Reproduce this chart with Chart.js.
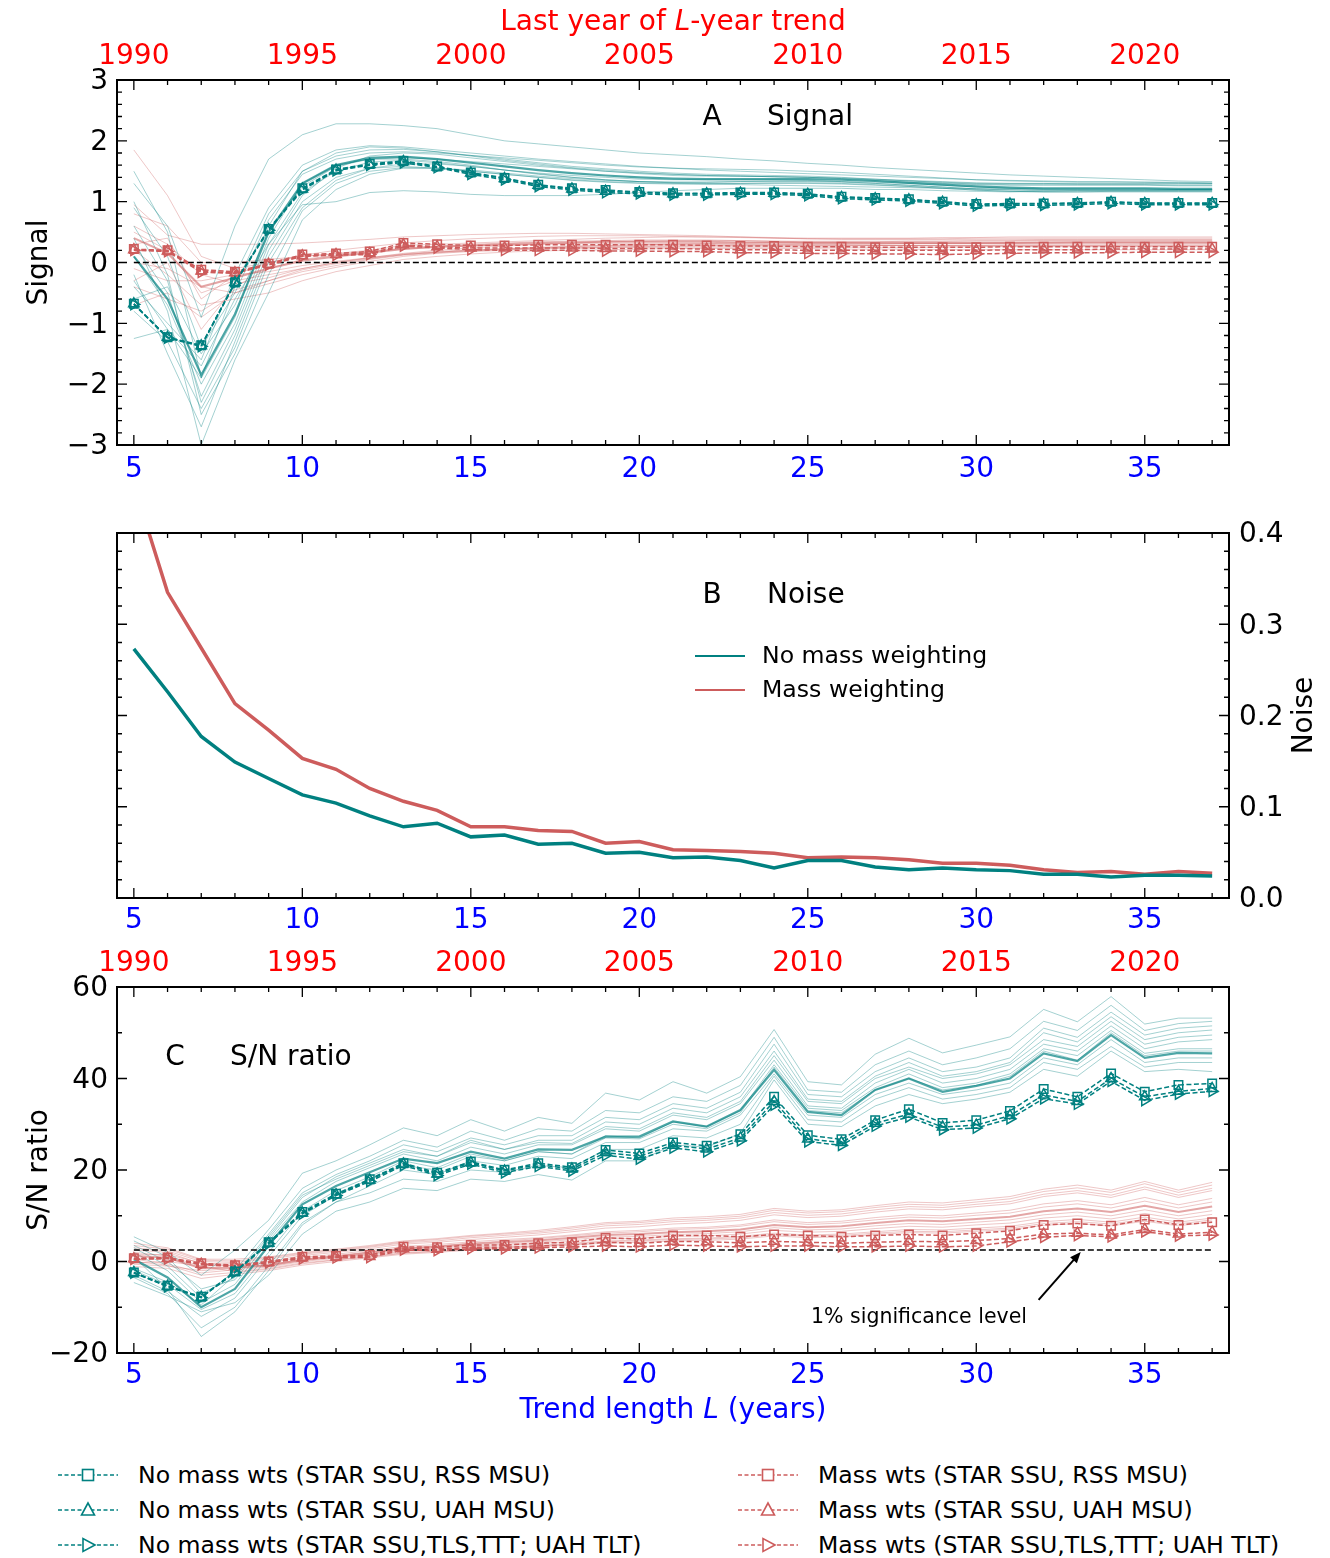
<!DOCTYPE html>
<html>
<head>
<meta charset="utf-8">
<script src="https://cdn.jsdelivr.net/npm/chart.js@4.4.1/dist/chart.umd.min.js"></script>
<style>
  body { margin: 0; background: #fff; width: 1330px; height: 1558px; position: relative; overflow: hidden; font-family: 'DejaVu Sans', sans-serif; }
  canvas { position: absolute; left: 0; }
  .leg { position: absolute; height: 30px; display: flex; align-items: center; font-size: 23.6px; white-space: nowrap; color: #000; }
  .leg svg { margin-right: 20px; }
</style>
</head>
<body>
<canvas id="chartA" width="1330" height="500" style="top:0px"></canvas>
<canvas id="chartB" width="1330" height="440" style="top:500px"></canvas>
<canvas id="chartC" width="1330" height="500" style="top:930px"></canvas>
<div id="legend"></div>
<script>
// ---- data ----
const trendLength = [5, 6, 7, 8, 9, 10, 11, 12, 13, 14, 15, 16, 17, 18, 19, 20, 21, 22, 23, 24, 25, 26, 27, 28, 29, 30, 31, 32, 33, 34, 35, 36, 37];
const lengthTicks = [5, 10, 15, 20, 25, 30, 35];
const yearTicks = [1990, 1995, 2000, 2005, 2010, 2015, 2020];
const yearOffset = 1985; // last year of an L-year trend = L + 1985
const signalTicks = [-3, -2, -1, 0, 1, 2, 3];
const noiseTicks = [0, 0.1, 0.2, 0.3, 0.4];
const snTicks = [-20, 0, 20, 40, 60];
const zeroLevel = 0;
const sigLevel = 2.5;

// A: signal, observations (RSS MSU / UAH MSU / TLS,TTT + UAH TLT)
const sigTealRss = [-0.68, -1.23, -1.36, -0.33, 0.55, 1.22, 1.53, 1.62, 1.67, 1.58, 1.48, 1.39, 1.28, 1.22, 1.19, 1.16, 1.14, 1.14, 1.15, 1.15, 1.13, 1.08, 1.06, 1.04, 1.00, 0.96, 0.97, 0.97, 0.98, 1.00, 0.98, 0.98, 0.98];
const sigTealUah = [-0.68, -1.23, -1.37, -0.33, 0.54, 1.21, 1.52, 1.61, 1.66, 1.57, 1.47, 1.38, 1.27, 1.21, 1.17, 1.15, 1.13, 1.13, 1.14, 1.14, 1.12, 1.07, 1.05, 1.03, 0.99, 0.95, 0.96, 0.96, 0.97, 0.99, 0.97, 0.97, 0.97];
const sigTealTlt = [-0.69, -1.24, -1.38, -0.34, 0.53, 1.19, 1.51, 1.60, 1.64, 1.56, 1.45, 1.36, 1.25, 1.19, 1.15, 1.13, 1.11, 1.11, 1.12, 1.12, 1.10, 1.05, 1.03, 1.01, 0.97, 0.93, 0.94, 0.94, 0.95, 0.97, 0.95, 0.95, 0.95];
const sigRedRss = [0.22, 0.20, -0.12, -0.15, -0.02, 0.13, 0.15, 0.18, 0.32, 0.30, 0.28, 0.28, 0.29, 0.29, 0.29, 0.29, 0.29, 0.28, 0.27, 0.27, 0.26, 0.26, 0.25, 0.25, 0.25, 0.25, 0.26, 0.26, 0.26, 0.26, 0.26, 0.26, 0.26];
const sigRedUah = [0.21, 0.19, -0.14, -0.17, -0.03, 0.11, 0.13, 0.15, 0.29, 0.26, 0.24, 0.24, 0.24, 0.24, 0.23, 0.23, 0.23, 0.22, 0.21, 0.21, 0.20, 0.20, 0.20, 0.20, 0.20, 0.20, 0.21, 0.21, 0.21, 0.22, 0.22, 0.22, 0.22];
const sigRedTlt = [0.20, 0.18, -0.16, -0.18, -0.04, 0.10, 0.12, 0.13, 0.27, 0.24, 0.21, 0.20, 0.20, 0.20, 0.19, 0.19, 0.18, 0.18, 0.16, 0.16, 0.15, 0.15, 0.14, 0.14, 0.13, 0.14, 0.15, 0.16, 0.16, 0.16, 0.17, 0.17, 0.17];
// A: model realisations and their mean
const sigTealMean = [0.1, -0.6, -1.85, -0.85, 0.5, 1.3, 1.6, 1.72, 1.74, 1.7, 1.64, 1.58, 1.52, 1.47, 1.43, 1.4, 1.38, 1.37, 1.37, 1.37, 1.37, 1.36, 1.34, 1.31, 1.28, 1.25, 1.23, 1.22, 1.22, 1.22, 1.22, 1.21, 1.21];
const sigRedMean = [0.4, 0.15, -0.4, -0.25, -0.1, 0.03, 0.1, 0.16, 0.22, 0.26, 0.28, 0.3, 0.32, 0.33, 0.34, 0.34, 0.34, 0.34, 0.33, 0.33, 0.32, 0.32, 0.32, 0.32, 0.32, 0.32, 0.32, 0.33, 0.33, 0.33, 0.33, 0.33, 0.33];
const sigTealRuns = [
  [1.3, 0.6, -0.9, 0.6, 1.7, 2.1, 2.28, 2.28, 2.25, 2.2, 2.1, 2.0, 1.95, 1.9, 1.85, 1.8, 1.77, 1.74, 1.7, 1.67, 1.63, 1.6, 1.56, 1.53, 1.5, 1.47, 1.44, 1.42, 1.4, 1.38, 1.36, 1.34, 1.33],
  [0.4, -0.8, -3.0, -1.6, -0.5, 0.7, 1.2, 1.45, 1.55, 1.55, 1.5, 1.45, 1.4, 1.36, 1.33, 1.31, 1.3, 1.29, 1.28, 1.27, 1.26, 1.25, 1.24, 1.23, 1.22, 1.21, 1.21, 1.2, 1.2, 1.2, 1.2, 1.2, 1.2],
  [-1.25, -1.1, -1.7, -0.6, 0.3, 0.95, 1.0, 1.15, 1.18, 1.16, 1.12, 1.1, 1.1, 1.1, 1.12, 1.15, 1.18, 1.2, 1.22, 1.22, 1.22, 1.22, 1.2, 1.2, 1.18, 1.17, 1.16, 1.17, 1.18, 1.18, 1.18, 1.18, 1.18],
  [1.5, 0.5, -1.9, -0.9, 0.6, 1.5, 1.8, 1.9, 1.88, 1.82, 1.75, 1.68, 1.62, 1.56, 1.52, 1.48, 1.45, 1.43, 1.42, 1.41, 1.4, 1.38, 1.36, 1.34, 1.32, 1.3, 1.3, 1.3, 1.3, 1.3, 1.3, 1.3, 1.3],
  [0.6, -0.3, -2.3, -1.2, 0.2, 1.1, 1.55, 1.75, 1.8, 1.78, 1.72, 1.66, 1.6, 1.55, 1.5, 1.46, 1.43, 1.42, 1.42, 1.41, 1.4, 1.38, 1.35, 1.32, 1.3, 1.28, 1.27, 1.27, 1.27, 1.27, 1.27, 1.26, 1.26],
  [-0.4, -1.0, -1.6, -0.2, 0.9, 1.6, 1.85, 1.92, 1.9, 1.85, 1.8, 1.75, 1.7, 1.66, 1.62, 1.58, 1.55, 1.52, 1.5, 1.48, 1.46, 1.44, 1.42, 1.4, 1.38, 1.36, 1.35, 1.34, 1.33, 1.33, 1.32, 1.32, 1.31],
  [0.1, -0.7, -2.0, -1.0, 0.4, 1.3, 1.6, 1.7, 1.7, 1.66, 1.6, 1.52, 1.45, 1.4, 1.36, 1.33, 1.32, 1.32, 1.33, 1.34, 1.34, 1.33, 1.32, 1.3, 1.27, 1.24, 1.22, 1.21, 1.21, 1.21, 1.21, 1.2, 1.2],
  [-0.8, -1.3, -2.4, -1.4, 0.0, 0.9, 1.35, 1.55, 1.62, 1.62, 1.58, 1.52, 1.46, 1.4, 1.36, 1.33, 1.31, 1.3, 1.3, 1.3, 1.3, 1.29, 1.27, 1.25, 1.22, 1.19, 1.17, 1.16, 1.16, 1.16, 1.16, 1.16, 1.16],
  [0.9, 0.1, -1.4, -0.5, 0.7, 1.45, 1.7, 1.8, 1.82, 1.8, 1.76, 1.72, 1.68, 1.64, 1.6, 1.57, 1.55, 1.54, 1.53, 1.52, 1.5, 1.48, 1.45, 1.42, 1.39, 1.36, 1.34, 1.33, 1.32, 1.32, 1.32, 1.31, 1.3],
  [-0.2, -1.5, -2.7, -1.3, 0.1, 1.0, 1.4, 1.55, 1.58, 1.55, 1.5, 1.45, 1.4, 1.35, 1.32, 1.3, 1.29, 1.29, 1.3, 1.31, 1.31, 1.3, 1.28, 1.25, 1.22, 1.19, 1.17, 1.16, 1.16, 1.17, 1.17, 1.17, 1.17],
  [-0.3, -1.1, -1.9, -0.4, 0.8, 1.5, 1.75, 1.85, 1.86, 1.82, 1.76, 1.7, 1.64, 1.58, 1.54, 1.5, 1.47, 1.45, 1.44, 1.43, 1.42, 1.4, 1.37, 1.34, 1.31, 1.29, 1.28, 1.28, 1.28, 1.28, 1.28, 1.27, 1.27],
  [0.3, -0.5, -2.2, -1.1, 0.3, 1.15, 1.5, 1.65, 1.68, 1.64, 1.58, 1.52, 1.47, 1.43, 1.4, 1.37, 1.36, 1.36, 1.36, 1.36, 1.35, 1.33, 1.3, 1.27, 1.24, 1.21, 1.2, 1.19, 1.19, 1.19, 1.19, 1.19, 1.19],
  [-0.6, -0.4, -1.5, -0.7, 0.5, 1.25, 1.58, 1.7, 1.72, 1.7, 1.66, 1.62, 1.58, 1.54, 1.5, 1.47, 1.45, 1.43, 1.42, 1.41, 1.4, 1.39, 1.37, 1.35, 1.33, 1.31, 1.3, 1.3, 1.29, 1.29, 1.29, 1.29, 1.29],
  [1.0, -0.2, -2.5, -1.5, -0.2, 0.85, 1.3, 1.5, 1.56, 1.55, 1.52, 1.47, 1.42, 1.38, 1.35, 1.33, 1.32, 1.32, 1.33, 1.33, 1.33, 1.32, 1.3, 1.27, 1.24, 1.21, 1.19, 1.18, 1.18, 1.18, 1.18, 1.18, 1.18]
];
const sigRedRuns = [
  [1.85, 1.1, 0.1, -0.1, 0.0, 0.1, 0.15, 0.2, 0.28, 0.3, 0.32, 0.34, 0.36, 0.38, 0.4, 0.41, 0.42, 0.42, 0.42, 0.41, 0.4, 0.4, 0.4, 0.4, 0.41, 0.41, 0.42, 0.42, 0.42, 0.42, 0.42, 0.42, 0.42],
  [0.95, 0.45, 0.3, 0.3, 0.3, 0.32, 0.35, 0.38, 0.42, 0.44, 0.46, 0.47, 0.48, 0.48, 0.47, 0.46, 0.45, 0.44, 0.42, 0.4, 0.39, 0.38, 0.38, 0.38, 0.38, 0.38, 0.38, 0.38, 0.38, 0.38, 0.38, 0.38, 0.38],
  [-0.7, -0.5, -0.9, -0.5, -0.3, -0.15, -0.05, 0.05, 0.12, 0.16, 0.19, 0.21, 0.23, 0.24, 0.25, 0.26, 0.26, 0.27, 0.27, 0.27, 0.27, 0.27, 0.28, 0.28, 0.28, 0.28, 0.29, 0.29, 0.29, 0.29, 0.3, 0.3, 0.3],
  [0.5, 0.2, -0.5, -0.3, -0.2, -0.1, 0.0, 0.07, 0.13, 0.17, 0.2, 0.22, 0.24, 0.26, 0.28, 0.29, 0.3, 0.31, 0.32, 0.33, 0.33, 0.34, 0.34, 0.35, 0.35, 0.36, 0.36, 0.37, 0.37, 0.37, 0.37, 0.37, 0.37],
  [0.2, -0.2, -0.7, -0.6, -0.5, -0.3, -0.15, -0.05, 0.05, 0.1, 0.14, 0.17, 0.19, 0.2, 0.21, 0.22, 0.23, 0.23, 0.23, 0.23, 0.23, 0.22, 0.22, 0.22, 0.21, 0.21, 0.21, 0.21, 0.21, 0.21, 0.21, 0.21, 0.21],
  [-0.3, 0.0, -1.1, -0.4, -0.1, 0.05, 0.12, 0.18, 0.24, 0.27, 0.3, 0.32, 0.34, 0.35, 0.36, 0.37, 0.37, 0.37, 0.36, 0.35, 0.34, 0.33, 0.32, 0.32, 0.32, 0.32, 0.33, 0.33, 0.34, 0.34, 0.34, 0.34, 0.34],
  [0.8, 0.6, 0.0, 0.0, 0.05, 0.1, 0.14, 0.18, 0.22, 0.25, 0.27, 0.29, 0.3, 0.31, 0.31, 0.31, 0.31, 0.31, 0.3, 0.3, 0.29, 0.29, 0.28, 0.28, 0.27, 0.27, 0.27, 0.27, 0.27, 0.27, 0.27, 0.27, 0.27],
  [-0.1, -0.3, -0.3, -0.2, -0.15, -0.05, 0.02, 0.08, 0.14, 0.18, 0.21, 0.23, 0.25, 0.27, 0.28, 0.29, 0.3, 0.3, 0.3, 0.3, 0.3, 0.3, 0.3, 0.31, 0.31, 0.31, 0.31, 0.31, 0.32, 0.32, 0.32, 0.32, 0.32],
  [0.6, 0.3, -0.2, -0.35, -0.25, -0.1, 0.0, 0.08, 0.15, 0.2, 0.24, 0.27, 0.3, 0.32, 0.34, 0.35, 0.36, 0.36, 0.36, 0.35, 0.35, 0.35, 0.35, 0.35, 0.35, 0.35, 0.35, 0.36, 0.36, 0.36, 0.36, 0.36, 0.36],
  [-0.4, -0.6, -0.8, -0.45, -0.3, -0.12, -0.02, 0.06, 0.13, 0.17, 0.2, 0.22, 0.24, 0.25, 0.26, 0.27, 0.28, 0.28, 0.28, 0.28, 0.28, 0.28, 0.28, 0.28, 0.28, 0.28, 0.28, 0.28, 0.28, 0.28, 0.28, 0.28, 0.28],
  [0.3, 0.4, -0.6, -0.2, 0.0, 0.12, 0.2, 0.26, 0.32, 0.36, 0.39, 0.41, 0.43, 0.44, 0.44, 0.44, 0.43, 0.42, 0.41, 0.4, 0.39, 0.39, 0.39, 0.39, 0.39, 0.4, 0.4, 0.4, 0.4, 0.4, 0.4, 0.4, 0.4],
  [0.0, -0.1, -0.4, -0.5, -0.35, -0.2, -0.08, 0.02, 0.1, 0.15, 0.18, 0.2, 0.22, 0.23, 0.24, 0.25, 0.25, 0.25, 0.25, 0.25, 0.25, 0.25, 0.25, 0.25, 0.25, 0.26, 0.26, 0.26, 0.26, 0.26, 0.26, 0.26, 0.26]
];

// B: noise
const noiseTeal = [0.273, 0.226, 0.177, 0.149, 0.131, 0.113, 0.104, 0.090, 0.078, 0.082, 0.067, 0.069, 0.059, 0.060, 0.049, 0.050, 0.044, 0.045, 0.041, 0.033, 0.041, 0.041, 0.034, 0.031, 0.033, 0.031, 0.030, 0.026, 0.026, 0.023, 0.025, 0.025, 0.024];
const noiseRed = [0.453, 0.335, 0.274, 0.213, 0.184, 0.153, 0.141, 0.120, 0.106, 0.096, 0.078, 0.078, 0.074, 0.073, 0.060, 0.062, 0.053, 0.052, 0.051, 0.049, 0.044, 0.045, 0.044, 0.042, 0.038, 0.038, 0.036, 0.031, 0.028, 0.029, 0.026, 0.029, 0.027];

// C: S/N ratio, observations
const snTealRss = [-2.4, -5.3, -7.7, -2.2, 4.2, 10.8, 14.8, 18.0, 21.5, 19.4, 21.8, 20.0, 21.5, 20.6, 24.4, 23.6, 26.0, 25.3, 27.8, 36.0, 27.6, 26.7, 30.9, 33.3, 30.3, 30.9, 32.9, 37.7, 36.0, 41.1, 37.1, 38.6, 38.9];
const snTealUah = [-2.4, -5.4, -7.8, -2.3, 4.0, 10.6, 14.6, 17.8, 21.3, 19.1, 21.6, 19.8, 21.2, 20.2, 23.8, 23.0, 25.4, 24.6, 27.0, 35.0, 26.8, 26.0, 30.2, 32.2, 29.4, 29.8, 31.9, 36.4, 35.0, 40.0, 36.0, 37.2, 37.8];
const snTealTlt = [-2.5, -5.5, -7.9, -2.4, 3.9, 10.4, 14.4, 17.5, 21.0, 18.8, 21.3, 19.4, 20.8, 19.8, 23.2, 22.4, 24.8, 24.0, 26.4, 34.2, 26.2, 25.4, 29.6, 31.6, 28.8, 29.2, 31.2, 35.6, 34.4, 39.4, 35.2, 36.6, 37.2];
const snRedRss = [0.7, 0.85, -0.4, -0.8, 0, 1.05, 1.2, 1.4, 3.2, 3.1, 3.6, 3.6, 4.0, 4.2, 5.2, 4.9, 5.7, 5.7, 5.4, 5.9, 5.7, 5.4, 5.7, 5.9, 5.7, 6.2, 6.7, 8.0, 8.3, 7.8, 9.2, 8.0, 8.6];
const snRedUah = [0.6, 0.7, -0.6, -1.0, -0.2, 0.8, 1.0, 1.1, 2.8, 2.7, 3.1, 3.1, 3.4, 3.6, 4.2, 4.0, 4.4, 4.3, 4.1, 4.4, 4.2, 4.0, 4.2, 4.4, 4.3, 4.6, 5.0, 6.0, 6.2, 5.8, 7.0, 6.0, 6.4];
const snRedTlt = [0.5, 0.6, -0.7, -1.1, -0.3, 0.6, 0.8, 0.9, 2.5, 2.4, 2.8, 2.8, 3.0, 3.2, 3.4, 3.2, 3.6, 3.4, 3.2, 3.4, 3.4, 3.2, 3.2, 3.4, 3.2, 3.4, 4.3, 5.3, 5.7, 5.4, 6.5, 5.6, 5.8];
// C: model realisations and their mean
const snTealMean = [0.5, -3.5, -10, -6, 3.5, 12.5, 16.5, 19.5, 22.5, 21.5, 24, 22.5, 24.5, 24.4, 27.3, 27.3, 30.6, 29.5, 33.1, 41.9, 32.7, 32, 37.5, 40, 37.1, 38.4, 40, 45.5, 43.8, 49.5, 44.5, 45.6, 45.5];
const snRedMean = [1.2, 0.8, -1.5, -1.3, -0.8, 0.4, 1.1, 1.9, 2.8, 3.2, 3.8, 4.2, 4.6, 5.2, 5.8, 6, 6.4, 6.6, 7, 8, 7.5, 7.7, 8.4, 9, 8.8, 9.3, 9.8, 11, 11.6, 10.8, 12.2, 10.8, 12];
const snTealRuns = [
  [5.4, 2, -3, 2.5, 9, 19.3, 22, 25.5, 29.2, 27.5, 31, 28.5, 31.5, 30.2, 36.8, 35.3, 39.3, 36.8, 40.4, 50.7, 39.3, 38.6, 45.3, 48.8, 45.6, 47.3, 49.1, 55.1, 52.4, 57.9, 51.9, 53.2, 53.2],
  [3.5, 0, -6, -4, 5, 14, 18.5, 21.5, 24.5, 23, 26.5, 24.5, 26.5, 26.5, 30.5, 30, 33.5, 32.5, 36, 46, 35.5, 35, 40.5, 43.5, 40.5, 41.5, 43.5, 50, 48, 53.5, 48.5, 50, 50.6],
  [2, -2, -9, -5, 4.5, 13, 17.5, 20.5, 23.5, 22, 25, 23.5, 25.5, 25.5, 29, 28.5, 32, 31, 34.5, 44, 34, 33.5, 39, 42, 39, 40, 42, 47.5, 46, 51.5, 46.5, 48, 48.5],
  [-4.6, -7.5, -11, -9, -3, 6, 11, 13, 16, 15.5, 18, 17.5, 19, 17.8, 22, 22, 25.5, 25, 28, 39.7, 30, 29.5, 34, 36.5, 34.5, 35.5, 37, 42, 40.5, 46, 41.5, 42, 41.5],
  [1, -6, -16.4, -11, -2, 8, 13, 16.5, 20, 19, 22, 21, 23, 22.5, 26, 26, 29, 28.5, 32, 41, 32, 31.5, 36.5, 39, 36.5, 37.5, 39, 44.5, 43, 48.5, 43.5, 44.5, 44.5],
  [-1.5, -4.5, -9.5, -3, 6, 15, 19, 22, 25.5, 24, 27, 25.5, 27.5, 27.5, 31.5, 31, 34.5, 33.5, 37, 47.5, 36.5, 36, 41.5, 44.5, 41.5, 42.5, 44.5, 51, 49, 54.5, 49.5, 51, 51.5],
  [-3, -6.5, -12, -8, 1, 10, 14.5, 18, 21, 20, 23, 22, 24, 23.5, 27, 26.8, 30, 29, 32.5, 42.5, 33, 32.5, 37.5, 40, 37.5, 38.5, 40.5, 46, 44, 50, 45, 46, 46],
  [3, -1, -8, -2, 7, 16, 20, 23, 26.5, 25, 28.5, 26.5, 29, 28.5, 33, 32.5, 36, 35, 38.5, 49, 37.5, 37, 43, 46, 43, 44.5, 46.5, 52.5, 50.5, 56, 50.5, 52, 52.5],
  [-2, -5, -10.5, -7, 2, 11, 15.5, 18.5, 22, 20.5, 23.5, 22, 24, 23.5, 27.5, 27, 30.5, 29.5, 33, 43, 33.5, 33, 38, 41, 38, 39, 41, 46.5, 45, 50.5, 45.5, 46.5, 46.5],
  [4.5, 1, -7, -3.5, 5.5, 14.5, 18, 21, 24, 23, 26, 24.5, 26, 25.8, 29.5, 29, 32.5, 31.5, 35, 45, 35, 34.5, 40, 42.5, 40, 41, 43, 48.5, 47, 52.5, 47.5, 49, 49.5],
  [-3.5, -7, -14.5, -10, -1, 8.5, 13, 15, 18, 17.5, 20, 19.5, 21, 20.5, 24.5, 24.5, 27.5, 27, 30, 40.5, 31, 30.5, 35.5, 38, 35.5, 36.5, 38, 43.5, 42, 47, 42.5, 43.5, 43.5]
];
const snRedRuns = [
  [4, 3, 0.5, 0.5, 1, 2, 2.7, 3.5, 4.5, 5, 5.7, 6.2, 6.8, 7.6, 8.5, 8.8, 9.5, 9.8, 10.3, 11.6, 11, 11.3, 12.2, 13, 12.8, 13.5, 14.2, 15.8, 16.7, 15.6, 17.5, 15.6, 17.3],
  [2.5, 2, -0.5, -0.5, 0, 1.3, 2, 2.8, 3.8, 4.2, 4.8, 5.3, 5.8, 6.5, 7.3, 7.6, 8.2, 8.5, 9, 10.2, 9.6, 9.9, 10.8, 11.5, 11.3, 12, 12.6, 14.2, 15, 14, 15.8, 14, 15.5],
  [-1.1, -1.5, -3.7, -2.8, -2, -0.8, 0, 0.8, 1.6, 2, 2.5, 2.8, 3.2, 3.6, 4, 4.2, 4.5, 4.6, 4.9, 5.6, 5.2, 5.4, 5.9, 6.3, 6.2, 6.6, 7, 7.9, 8.3, 7.8, 8.8, 7.8, 8.7],
  [0.5, -0.5, -2.5, -1.8, -1.2, 0, 0.7, 1.4, 2.2, 2.6, 3.1, 3.5, 3.9, 4.4, 4.9, 5.1, 5.5, 5.6, 6, 6.8, 6.4, 6.6, 7.2, 7.7, 7.5, 8, 8.4, 9.5, 10, 9.3, 10.5, 9.3, 10.3],
  [3, 2.3, 0, -0.2, 0.5, 1.6, 2.3, 3.1, 4.1, 4.5, 5.2, 5.7, 6.2, 6.9, 7.8, 8.1, 8.7, 9, 9.5, 10.7, 10.1, 10.4, 11.3, 12, 11.8, 12.5, 13.1, 14.7, 15.5, 14.5, 16.3, 14.5, 16],
  [-0.3, 0, -1, -2.2, -1.5, -0.3, 0.4, 1.1, 1.9, 2.3, 2.8, 3.2, 3.5, 4, 4.5, 4.7, 5, 5.1, 5.5, 6.2, 5.8, 6, 6.5, 7, 6.9, 7.3, 7.7, 8.7, 9.2, 8.6, 9.7, 8.6, 9.5],
  [2, 1.2, -1, -0.8, -0.3, 0.9, 1.6, 2.4, 3.3, 3.7, 4.3, 4.8, 5.2, 5.8, 6.5, 6.8, 7.3, 7.5, 8, 9.1, 8.5, 8.8, 9.6, 10.2, 10, 10.6, 11.2, 12.6, 13.3, 12.4, 14, 12.4, 13.8],
  [1.5, 1.5, -0.3, -1, -0.8, 0.5, 1.3, 2.1, 3, 3.4, 4, 4.5, 5, 5.6, 6.2, 6.5, 7, 7.2, 7.7, 8.7, 8.1, 8.4, 9.1, 9.7, 9.5, 10.1, 10.6, 11.9, 12.6, 11.7, 13.2, 11.7, 13],
  [-0.6, -1, -2, -1.5, -1, 0.2, 0.9, 1.6, 2.5, 2.9, 3.4, 3.8, 4.2, 4.8, 5.3, 5.5, 5.9, 6.1, 6.5, 7.4, 6.9, 7.1, 7.8, 8.3, 8.1, 8.6, 9.1, 10.2, 10.8, 10, 11.3, 10, 11.1],
  [3.5, 2.7, 0.3, 0.1, 0.8, 1.8, 2.5, 3.3, 4.3, 4.8, 5.5, 6, 6.5, 7.3, 8.2, 8.5, 9.1, 9.4, 9.9, 11.2, 10.6, 10.9, 11.8, 12.5, 12.3, 13, 13.7, 15.3, 16.1, 15.1, 17, 15.1, 16.7],
  [0.0, -0.8, -3, -2.4, -1.7, -0.5, 0.3, 1, 1.8, 2.2, 2.7, 3, 3.4, 3.8, 4.3, 4.5, 4.8, 4.9, 5.2, 5.9, 5.5, 5.7, 6.2, 6.6, 6.5, 6.9, 7.3, 8.3, 8.7, 8.2, 9.2, 8.2, 9.1]
];

const obsLabels = ['STAR SSU, RSS MSU', 'STAR SSU, UAH MSU', 'STAR SSU,TLS,TTT; UAH TLT'];
const noiseLabels = ['No mass weighting', 'Mass weighting'];

// ---- style ----
const FONT = "'DejaVu Sans', sans-serif";
const TEAL = '#008080', RED = '#cd5c5c';
const TEAL_THIN = 'rgba(0,128,128,0.36)', RED_THIN = 'rgba(205,92,92,0.34)';
const TEAL_MEAN = 'rgba(0,128,128,0.7)', RED_MEAN = 'rgba(205,92,92,0.55)';
const markers = [{style: 'rect', rot: 0}, {style: 'triangle', rot: 0}, {style: 'triangle', rot: 90}];
const tickFont = {family: FONT, size: 28};

function series(values, color, width, extra) {
  return Object.assign({
    data: trendLength.map((x, i) => ({x: x, y: values[i]})),
    borderColor: color, borderWidth: width, pointRadius: 0, pointHoverRadius: 0, fill: false
  }, extra || {});
}
function obsSeries(values, color, k) {
  return series(values, color, 1.5, {
    borderDash: [5, 2.5], pointStyle: markers[k].style, pointRotation: markers[k].rot,
    pointRadius: 6, pointBorderWidth: 1.5, pointBorderColor: color, pointBackgroundColor: 'rgba(0,0,0,0)'
  });
}
function levelLine(level) {
  return {
    data: [{x: trendLength[0], y: level}, {x: trendLength[trendLength.length - 1], y: level}],
    borderColor: '#000', borderWidth: 1.5, borderDash: [6, 3], pointRadius: 0
  };
}

function lengthAxis(h, pad) {
  return {
    type: 'linear', position: 'bottom', min: 4.5, max: 37.5,
    grid: {display: false, drawTicks: false}, border: {display: false},
    ticks: {color: '#0000ff', font: tickFont, padding: pad, maxRotation: 0, callback: v => String(v)},
    afterBuildTicks: s => { s.ticks = lengthTicks.map(v => ({value: v})); },
    afterFit: s => { s.height = h; }
  };
}
function yearAxis(h) {
  return {
    type: 'linear', position: 'top', min: 4.5 + yearOffset, max: 37.5 + yearOffset,
    grid: {display: false, drawTicks: false}, border: {display: false},
    ticks: {color: '#ff0000', font: tickFont, padding: 6, maxRotation: 0, callback: v => String(v)},
    afterBuildTicks: s => { s.ticks = yearTicks.map(v => ({value: v})); },
    afterFit: s => { s.height = h; }
  };
}
function valueAxis(pos, min, max, ticks, w, fmt) {
  return {
    type: 'linear', position: pos, min: min, max: max,
    grid: {display: false, drawTicks: false}, border: {display: false},
    ticks: {color: '#000', font: tickFont, padding: pos === 'left' ? 9 : 10, labelOffset: 2, callback: fmt},
    afterBuildTicks: s => { s.ticks = ticks.map(v => ({value: v})); },
    afterFit: s => { s.width = w; }
  };
}
const intFmt = v => (v < 0 ? '\u2212' + Math.abs(v) : String(v));
const decFmt = v => v.toFixed(1);

function baseOptions(padding, scales) {
  return {
    responsive: false, animation: false, devicePixelRatio: 1, events: [],
    layout: {padding: padding},
    plugins: {legend: {display: false}, tooltip: {enabled: false}},
    scales: scales
  };
}

// inward ticks on all four sides plus the frame
function frame(chart, yStep) {
  const {ctx, chartArea: a, scales: {x, y}} = chart;
  ctx.save();
  ctx.strokeStyle = '#000';
  ctx.lineWidth = 1.3;
  ctx.beginPath();
  trendLength.forEach(v => {
    const p = x.getPixelForValue(v);
    const len = lengthTicks.includes(v) ? 10 : 5;
    ctx.moveTo(p, a.bottom); ctx.lineTo(p, a.bottom - len);
    ctx.moveTo(p, a.top); ctx.lineTo(p, a.top + len);
  });
  const major = y.ticks.map(t => t.value);
  const n = Math.round((y.max - y.min) / yStep);
  for (let i = 0; i <= n; i++) {
    const v = y.min + i * yStep;
    const len = major.some(m => Math.abs(m - v) < 1e-6) ? 10 : 5;
    const p = y.getPixelForValue(v);
    ctx.moveTo(a.left, p); ctx.lineTo(a.left + len, p);
    ctx.moveTo(a.right, p); ctx.lineTo(a.right - len, p);
  }
  ctx.stroke();
  ctx.lineWidth = 2;
  ctx.strokeRect(a.left, a.top, a.right - a.left, a.bottom - a.top);
  ctx.restore();
}

// text with optional italic pieces, centred on (cx, cy)
function mixed(ctx, parts, cx, cy, size, color, rot) {
  ctx.save();
  ctx.translate(cx, cy);
  if (rot) ctx.rotate(rot);
  ctx.fillStyle = color;
  ctx.textBaseline = 'middle';
  ctx.textAlign = 'left';
  const fonts = parts.map(p => (p[1] ? 'italic ' : '') + size + 'px ' + FONT);
  let w = 0;
  parts.forEach((p, i) => { ctx.font = fonts[i]; w += ctx.measureText(p[0]).width; });
  let xx = -w / 2;
  parts.forEach((p, i) => { ctx.font = fonts[i]; ctx.fillText(p[0], xx, 0); xx += ctx.measureText(p[0]).width; });
  ctx.restore();
}
function label(ctx, str, x, y, size, align, color) {
  ctx.save();
  ctx.font = size + 'px ' + FONT;
  ctx.fillStyle = color || '#000';
  ctx.textAlign = align;
  ctx.textBaseline = 'middle';
  ctx.fillText(str, x, y);
  ctx.restore();
}

// ---- A: Signal ----
new Chart(document.getElementById('chartA'), {
  type: 'line',
  data: {datasets: [
    obsSeries(sigTealRss, TEAL, 0), obsSeries(sigTealUah, TEAL, 1), obsSeries(sigTealTlt, TEAL, 2),
    obsSeries(sigRedRss, RED, 0), obsSeries(sigRedUah, RED, 1), obsSeries(sigRedTlt, RED, 2),
    levelLine(zeroLevel),
    series(sigTealMean, TEAL_MEAN, 2.2),
    series(sigRedMean, RED_MEAN, 2),
    ...sigTealRuns.map(v => series(v, TEAL_THIN, 1)),
    ...sigRedRuns.map(v => series(v, RED_THIN, 1))
  ]},
  options: baseOptions({left: 0, right: 101, top: 0, bottom: 0}, {
    x: lengthAxis(55, 8),
    x2: yearAxis(80),
    y: valueAxis('left', -3, 3, signalTicks, 117, intFmt)
  }),
  plugins: [{
    id: 'decoA',
    afterDraw(chart) {
      const ctx = chart.ctx, a = chart.chartArea;
      frame(chart, 0.2);
      mixed(ctx, [['Last year of ', 0], ['L', 1], ['-year trend', 0]], (a.left + a.right) / 2, 23, 28, '#ff0000');
      mixed(ctx, [['Signal', 0]], 40, (a.top + a.bottom) / 2, 28, '#000', -Math.PI / 2);
      label(ctx, 'A', 712, 118, 28, 'center');
      label(ctx, 'Signal', 767, 118, 28, 'left');
    }
  }]
});

// ---- B: Noise ----
new Chart(document.getElementById('chartB'), {
  type: 'line',
  data: {datasets: [
    series(noiseTeal, TEAL, 3.5),
    series(noiseRed, RED, 3.5)
  ]},
  options: baseOptions({left: 117, right: 0, top: 33, bottom: 0}, {
    x: lengthAxis(42, 6),
    y: valueAxis('right', 0, 0.4, noiseTicks, 101, decFmt)
  }),
  plugins: [{
    id: 'decoB',
    afterDraw(chart) {
      const ctx = chart.ctx, a = chart.chartArea;
      frame(chart, 0.02);
      mixed(ctx, [['Noise', 0]], 1305, (a.top + a.bottom) / 2, 28, '#000', -Math.PI / 2);
      label(ctx, 'B', 712, 96, 28, 'center');
      label(ctx, 'Noise', 767, 96, 28, 'left');
      [TEAL, RED].forEach((c, i) => {
        const yy = 156 + i * 34;
        ctx.save();
        ctx.strokeStyle = c; ctx.lineWidth = 2;
        ctx.beginPath(); ctx.moveTo(695, yy); ctx.lineTo(745, yy); ctx.stroke();
        ctx.restore();
        label(ctx, noiseLabels[i], 762, yy + 1, 23.6, 'left');
      });
    }
  }]
});

// ---- C: S/N ratio ----
const arrowTip = {x: 33.1, y: 2.1};
const arrowTail = {x: 31.85, y: -8.4};
const noteAt = {x: 28.3, y: -12.3};
new Chart(document.getElementById('chartC'), {
  type: 'line',
  data: {datasets: [
    obsSeries(snTealRss, TEAL, 0), obsSeries(snTealUah, TEAL, 1), obsSeries(snTealTlt, TEAL, 2),
    obsSeries(snRedRss, RED, 0), obsSeries(snRedUah, RED, 1), obsSeries(snRedTlt, RED, 2),
    levelLine(sigLevel),
    series(snTealMean, TEAL_MEAN, 2.2),
    series(snRedMean, RED_MEAN, 2),
    ...snTealRuns.map(v => series(v, TEAL_THIN, 1)),
    ...snRedRuns.map(v => series(v, RED_THIN, 1))
  ]},
  options: baseOptions({left: 0, right: 101, top: 0, bottom: 0}, {
    x: lengthAxis(77, 6),
    x2: yearAxis(57),
    y: valueAxis('left', -20, 60, snTicks, 117, intFmt)
  }),
  plugins: [{
    id: 'decoC',
    afterDraw(chart) {
      const ctx = chart.ctx, a = chart.chartArea, x = chart.scales.x, y = chart.scales.y;
      frame(chart, 10);
      mixed(ctx, [['S/N ratio', 0]], 40, (a.top + a.bottom) / 2, 28, '#000', -Math.PI / 2);
      mixed(ctx, [['Trend length ', 0], ['L', 1], [' (years)', 0]], (a.left + a.right) / 2, 481, 28, '#0000ff');
      label(ctx, 'C', 175, 128, 28, 'center');
      label(ctx, 'S/N ratio', 230, 128, 28, 'left');
      label(ctx, '1% significance level', x.getPixelForValue(noteAt.x), y.getPixelForValue(noteAt.y), 20.5, 'center');
      const tx = x.getPixelForValue(arrowTip.x), ty = y.getPixelForValue(arrowTip.y);
      const sx = x.getPixelForValue(arrowTail.x), sy = y.getPixelForValue(arrowTail.y);
      const ang = Math.atan2(ty - sy, tx - sx);
      ctx.save();
      ctx.strokeStyle = '#000'; ctx.fillStyle = '#000'; ctx.lineWidth = 2;
      ctx.beginPath(); ctx.moveTo(sx, sy); ctx.lineTo(tx - 8 * Math.cos(ang), ty - 8 * Math.sin(ang)); ctx.stroke();
      ctx.beginPath();
      ctx.moveTo(tx, ty);
      ctx.lineTo(tx - 11 * Math.cos(ang) + 4.5 * Math.sin(ang), ty - 11 * Math.sin(ang) - 4.5 * Math.cos(ang));
      ctx.lineTo(tx - 11 * Math.cos(ang) - 4.5 * Math.sin(ang), ty - 11 * Math.sin(ang) + 4.5 * Math.cos(ang));
      ctx.closePath(); ctx.fill();
      ctx.restore();
    }
  }]
});

// ---- bottom legend ----
function markerSvg(color, k) {
  let m;
  if (k === 0) m = '<rect x="24.5" y="9.5" width="11" height="11" fill="#fff" stroke="' + color + '" stroke-width="1.6"/>';
  else if (k === 1) m = '<polygon points="30,8 23.5,20 36.5,20" fill="#fff" stroke="' + color + '" stroke-width="1.6"/>';
  else m = '<polygon points="37,15 25,8.5 25,21.5" fill="#fff" stroke="' + color + '" stroke-width="1.6"/>';
  return '<svg width="60" height="30"><line x1="0" y1="15" x2="60" y2="15" stroke="' + color +
    '" stroke-width="1.5" stroke-dasharray="4 2.5"/>' + m + '</svg>';
}
const legendRows = [1475, 1510, 1545];
const legendCols = [{left: 58, prefix: 'No mass wts', color: TEAL}, {left: 738, prefix: 'Mass wts', color: RED}];
const legendBox = document.getElementById('legend');
legendCols.forEach(col => {
  obsLabels.forEach((name, k) => {
    const d = document.createElement('div');
    d.className = 'leg';
    d.style.left = col.left + 'px';
    d.style.top = (legendRows[k] - 15) + 'px';
    d.innerHTML = markerSvg(col.color, k) + '<span>' + col.prefix + ' (' + name + ')</span>';
    legendBox.appendChild(d);
  });
});
</script>
</body>
</html>
